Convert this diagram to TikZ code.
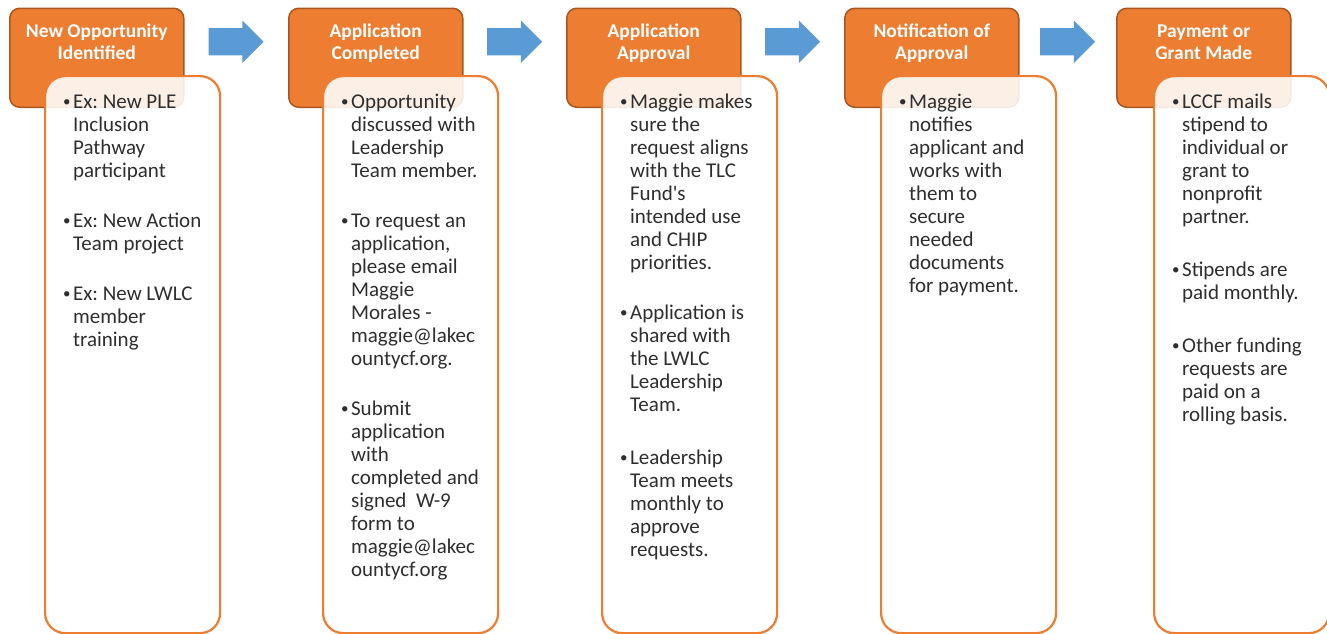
\documentclass[tikz,border=0pt]{standalone}
\usepackage{fontspec}
\setmainfont{Carlito}
\usetikzlibrary{shapes.arrows,calc,positioning}
\definecolor{steporange}{HTML}{ED7D31}
\definecolor{stepbrown}{HTML}{A9561E}
\definecolor{stepblue}{HTML}{5B9BD5}
\definecolor{steptext}{HTML}{2E2E2E}
\frenchspacing
\newcommand{\hd}[1]{\parbox[t][99pt][t]{174pt}{\centering\rule{0pt}{29pt}#1}}
\newcommand{\bd}[1]{\parbox[t][557pt][t]{175pt}{\raggedright\leftskip=28pt\rule{0pt}{32pt}#1}}
\newcommand{\bl}{\leavevmode\llap{\raisebox{1.5pt}{\fontsize{15}{15}\selectfont\textbullet}\hspace{2.5pt}}}
\newcommand{\gap}[1][27pt]{\par\vspace{#1}}
\begin{document}
\begin{tikzpicture}[x=1pt,y=-1pt]
\tikzstyle{every node}+=[inner sep=0pt]
\tikzstyle{headbox}=[anchor=north west,rounded corners=10pt,fill=steporange,draw=stepbrown,line width=1.5pt,text=white,font=\bfseries\fontsize{19.5}{22}\selectfont]
\tikzstyle{bodybox}=[anchor=north west,rounded corners=20pt,fill=white,fill opacity=0.88,text opacity=1,draw=steporange,line width=2.2pt,text=steptext,font=\fontsize{21}{23}\selectfont]
\tikzstyle{arrowblk}=[single arrow,fill=stepblue,inner ysep=13.5pt,minimum width=42pt,minimum height=55pt,single arrow head extend=7.5pt,single arrow head indent=0pt,xshift=-7pt,yshift=16pt]
\useasboundingbox (0,0) rectangle (1327,633);
\node[headbox] (h1) at (9,7.5) {\hd{New Opportunity\\Identified}};
\node[headbox] (h2) at (288,7.5) {\hd{Application\\Completed}};
\node[headbox] (h3) at (566,7.5) {\hd{Application\\Approval}};
\node[headbox] (h4) at (844,7.5) {\hd{Notification of\\Approval}};
\node[headbox] (h5) at (1116,7.5) {\hd{Payment or\\Grant Made}};
\node[bodybox] (b1) at ([shift={(35,67.5)}]h1.north west) {\bd{\bl Ex: New PLE\\Inclusion\\Pathway\\participant\gap
\bl Ex: New Action\\Team project\gap
\bl Ex: New LWLC\\member\\training}};
\node[bodybox] (b2) at ([shift={(34,67.5)}]h2.north west) {\bd{\bl Opportunity\\discussed with\\Leadership\\Team member.\gap
\bl To request an\\application,\\please email\\Maggie\\Morales -\\maggie@lakec\\ountycf.org.\gap
\bl Submit\\application\\with\\completed and\\signed\ \ W-9\\form to\\maggie@lakec\\ountycf.org}};
\node[bodybox] (b3) at ([shift={(35,67.5)}]h3.north west) {\bd{\bl Maggie makes\\sure the\\request aligns\\with the TLC\\Fund\textquotesingle s\\intended use\\and CHIP\\priorities.\gap
\bl Application is\\shared with\\the LWLC\\Leadership\\Team.\gap[30pt]
\bl Leadership\\Team meets\\monthly to\\approve\\requests.}};
\node[bodybox] (b4) at ([shift={(36,67.5)}]h4.north west) {\bd{\bl Maggie\\notifies\\applicant and\\works with\\them to\\secure\\needed\\documents\\for payment.}};
\node[bodybox] (b5) at ([shift={(37,67.5)}]h5.north west) {\bd{\bl LCCF mails\\stipend to\\individual or\\grant to\\nonprofit\\partner.\gap[30pt]
\bl Stipends are\\paid monthly.\gap[30pt]
\bl Other funding\\requests are\\paid on a\\rolling basis.}};
\node[arrowblk] (a1) at ($(h1.east)!0.5!(h2.west)$) {};
\node[arrowblk] (a2) at ($(h2.east)!0.5!(h3.west)$) {};
\node[arrowblk] (a3) at ($(h3.east)!0.5!(h4.west)$) {};
\node[arrowblk] (a4) at ($(h4.east)!0.5!(h5.west)$) {};
\end{tikzpicture}
\end{document}
